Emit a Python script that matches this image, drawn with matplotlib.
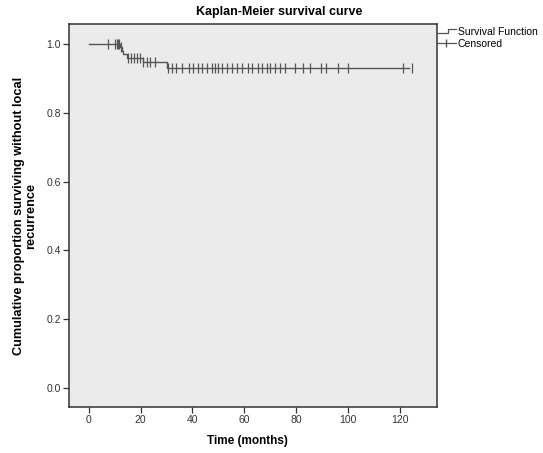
import matplotlib
matplotlib.use("Agg")
import matplotlib.pyplot as plt
from matplotlib.lines import Line2D
from matplotlib.legend_handler import HandlerBase

plt.rcParams['font.family'] = ['Liberation Sans', 'DejaVu Sans']

# step function (time in months, survival proportion)
step_times = [0, 12.1, 12.8, 13.4, 14.6, 20.8, 30.1]
step_surv = [1.0, 0.990, 0.980, 0.970, 0.960, 0.948, 0.931]
last_time = 123.5

# censored observations (months)
censor_times = [7.5, 10.3, 10.8, 11.3, 11.7, 12.4, 15.3, 16.5, 17.6, 18.7, 19.8,
                21.0, 22.4, 23.6, 25.6, 30.6, 32.0, 33.7, 36.0, 38.7, 40.2,
                42.0, 43.7, 45.6, 47.5, 48.7, 49.8, 51.3, 53.3, 55.2, 57.1,
                59.0, 61.3, 63.0, 65.2, 66.7, 68.7, 69.8, 71.7, 73.7, 75.6,
                79.4, 82.5, 85.2, 89.4, 91.3, 96.0, 99.8, 121.0, 124.5]


def surv_at(t):
    s = step_surv[0]
    for st, sv in zip(step_times, step_surv):
        if t >= st:
            s = sv
    return s


class StepHandler(HandlerBase):
    def create_artists(self, legend, orig, xd, yd, w, h, fontsize, trans):
        xs = [xd, xd + w * 0.6, xd + w * 0.6, xd + w]
        ys = [yd + h * 0.25, yd + h * 0.25, yd + h * 0.9, yd + h * 0.9]
        ln = Line2D(xs, ys, color='#555555', lw=0.9, transform=trans)
        return [ln]


line_col = '#555555'

fig = plt.figure(figsize=(5.43, 4.53), dpi=100)
ax = fig.add_axes([0.127, 0.1015, 0.678, 0.8455])
ax.set_facecolor('#ebebeb')

xs = step_times + [last_time]
ys = step_surv + [step_surv[-1]]
ax.step(xs, ys, where='post', color=line_col, lw=1.0)
ax.plot(censor_times, [surv_at(t) for t in censor_times], linestyle='none',
        marker='|', markersize=6.5, markeredgewidth=0.9, color=line_col)

ax.set_xlim(-7.6, 134.3)
ax.set_ylim(-0.055, 1.058)
ax.set_xticks([0, 20, 40, 60, 80, 100, 120])
ax.set_yticks([0.0, 0.2, 0.4, 0.6, 0.8, 1.0])
ax.set_yticklabels(['0.0', '0.2', '0.4', '0.6', '0.8', '1.0'])
ax.tick_params(axis='both', labelsize=7.5, colors='#333333', length=4, width=0.9, pad=2)
for sp in ax.spines.values():
    sp.set_color('#333333')
    sp.set_linewidth(1.1)

fig.text(279 / 543, 1 - 12 / 453, 'Kaplan-Meier survival curve', fontsize=9,
         fontweight='bold', ha='center', va='center')
ax.set_xlabel('Time (months)', fontsize=8.5, fontweight='bold')
ax.xaxis.set_label_coords(0.485, -0.072)
ax.set_ylabel('Cumulative proportion surviving without local\nrecurrence',
              fontsize=9.2, fontweight='bold', linespacing=1.0)
ax.yaxis.set_label_coords(-0.087, 0.5)

handles = [Line2D([], [], color='#555555'),
           Line2D([], [], color='#555555', lw=0.9, marker='|', markersize=6)]
fig.legend(handles, ['Survival Function', 'Censored'],
           handler_map={handles[0]: StepHandler()},
           loc='upper left', bbox_to_anchor=(0.805, 0.94), frameon=False,
           fontsize=7.5, handlelength=1.8, handletextpad=0.2, borderaxespad=0,
           borderpad=0, labelspacing=0.15)

fig.savefig('out.png', dpi=100)
